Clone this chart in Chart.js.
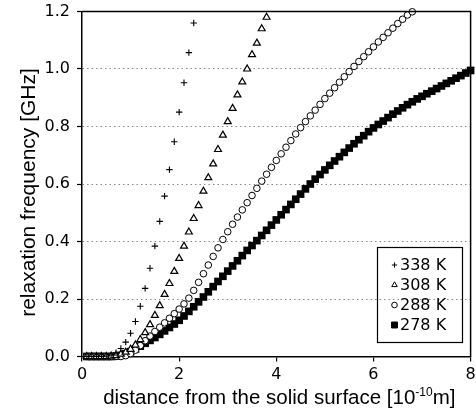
<!DOCTYPE html>
<html>
<head>
<meta charset="utf-8">
<script src="https://cdn.jsdelivr.net/npm/chart.js@4.4.1/dist/chart.umd.min.js"></script>
<style>
  html, body { margin: 0; padding: 0; background: #fff; }
  #wrap { width: 476px; height: 416px; }
</style>
</head>
<body>
<div id="wrap"><canvas id="relaxChart" width="476" height="416"></canvas></div>
<script>
  // distance from the solid surface, units of 1e-10 m
  const distance = [
    0.1, 0.2, 0.3, 0.4, 0.5, 0.6, 0.7, 0.8, 0.9, 1.0,
    1.1, 1.2, 1.3, 1.4, 1.5, 1.6, 1.7, 1.8, 1.9, 2.0,
    2.1, 2.2, 2.3, 2.4, 2.5, 2.6, 2.7, 2.8, 2.9, 3.0,
    3.1, 3.2, 3.3, 3.4, 3.5, 3.6, 3.7, 3.8, 3.9, 4.0,
    4.1, 4.2, 4.3, 4.4, 4.5, 4.6, 4.7, 4.8, 4.9, 5.0,
    5.1, 5.2, 5.3, 5.4, 5.5, 5.6, 5.7, 5.8, 5.9, 6.0,
    6.1, 6.2, 6.3, 6.4, 6.5, 6.6, 6.7, 6.8, 6.9, 7.0,
    7.1, 7.2, 7.3, 7.4, 7.5, 7.6, 7.7, 7.8, 7.9, 8.0
  ];

  // relaxation frequency [GHz] per temperature
  const f338 = [0, 0, 0, 0, 0.001, 0.005, 0.013, 0.028, 0.05, 0.081,
    0.122, 0.175, 0.237, 0.307, 0.384, 0.47, 0.558, 0.65, 0.747, 0.85,
    0.952, 1.057, 1.16];
  const f308 = [0, 0, 0, 0, 0, 0.001, 0.003, 0.008, 0.015, 0.025,
    0.04, 0.059, 0.083, 0.111, 0.143, 0.177, 0.216, 0.254, 0.296, 0.341,
    0.384, 0.433, 0.48, 0.525, 0.575, 0.622, 0.67, 0.72, 0.77, 0.817,
    0.863, 0.91, 0.955, 1.0, 1.05, 1.09, 1.14, 1.18];
  const f288 = [0, 0, 0, 0, 0, 0, 0, 0, 0.003, 0.01,
    0.022, 0.038, 0.055, 0.071, 0.087, 0.102, 0.117, 0.133, 0.149, 0.165,
    0.183, 0.203, 0.23, 0.258, 0.288, 0.318, 0.348, 0.378, 0.407, 0.434,
    0.46, 0.485, 0.51, 0.535, 0.56, 0.585, 0.61, 0.634, 0.658, 0.682,
    0.705, 0.728, 0.751, 0.774, 0.796, 0.817, 0.837, 0.857, 0.877, 0.897,
    0.916, 0.935, 0.954, 0.973, 0.991, 1.009, 1.026, 1.043, 1.06, 1.077,
    1.094, 1.11, 1.126, 1.142, 1.158, 1.173, 1.188, 1.199];
  const f278 = [0, 0, 0, 0, 0, 0, 0.001, 0.004, 0.01, 0.017,
    0.026, 0.036, 0.046, 0.056, 0.066, 0.077, 0.089, 0.101, 0.113, 0.126,
    0.141, 0.157, 0.173, 0.19, 0.207, 0.225, 0.243, 0.261, 0.279, 0.297,
    0.315, 0.333, 0.351, 0.369, 0.386, 0.403, 0.421, 0.439, 0.457, 0.475,
    0.493, 0.511, 0.529, 0.547, 0.565, 0.583, 0.6, 0.617, 0.633, 0.649,
    0.665, 0.68, 0.695, 0.71, 0.725, 0.74, 0.754, 0.768, 0.782, 0.795,
    0.807, 0.819, 0.831, 0.843, 0.854, 0.865, 0.876, 0.886, 0.896, 0.905,
    0.914, 0.923, 0.932, 0.941, 0.95, 0.959, 0.968, 0.977, 0.986, 0.995];

  const seriesNames = ['338 K', '308 K', '288 K', '278 K'];
  const xTicks = [0, 2, 4, 6, 8];
  const yTicks = [0, 0.2, 0.4, 0.6, 0.8, 1.0, 1.2];
  const yTitle = 'relaxation frequency [GHz]';
  // x title in three runs: text, superscript exponent, text
  const xTitleParts = ['distance from the solid surface [10', '-10', 'm]'];

  const toPoints = vals => vals.map((v, i) => ({ x: distance[i], y: v }));

  // small boxed legend inside the plot, bottom right
  const legendSizes = [2.6, 3.2, 2.8, 4.2];
  const boxLegend = {
    id: 'boxLegend',
    afterDraw(chart) {
      const ctx = chart.ctx;
      ctx.save();
      ctx.strokeStyle = '#000';
      ctx.lineWidth = 1.2;
      ctx.strokeRect(377.5, 247.5, 85, 95);
      chart.data.datasets.forEach((ds, i) => {
        const y = 265 + i * 20;
        ctx.fillStyle = ds.pointBackgroundColor;
        ctx.strokeStyle = '#000';
        ctx.lineWidth = 1;
        Chart.helpers.drawPoint(ctx, {
          pointStyle: ds.pointStyle, radius: legendSizes[i], borderWidth: 1, rotation: 0
        }, 394.5, y);
        ctx.fillStyle = '#000';
        ctx.font = '16px "DejaVu Sans"';
        ctx.textBaseline = 'middle';
        ctx.textAlign = 'left';
        ctx.fillText(ds.label, 400, y + 1);
      });
      ctx.restore();
    }
  };

  // frame top/right edges + both axis titles (x one needs a real superscript)
  const frame = {
    id: 'frame',
    afterDraw(chart) {
      const { ctx, chartArea: a } = chart;
      ctx.save();
      ctx.strokeStyle = '#000';
      ctx.lineWidth = 1.5;
      ctx.beginPath();
      ctx.moveTo(a.left, a.top);
      ctx.lineTo(a.right, a.top);
      ctx.lineTo(a.right, a.bottom);
      ctx.stroke();

      ctx.fillStyle = '#000';
      ctx.textBaseline = 'alphabetic';
      ctx.textAlign = 'left';
      const big = '20.5px "Liberation Sans"', small = '12px "Liberation Sans"';
      ctx.font = big;
      const w0 = ctx.measureText(xTitleParts[0]).width;
      const w2 = ctx.measureText(xTitleParts[2]).width;
      ctx.font = small;
      const w1 = ctx.measureText(xTitleParts[1]).width;
      let x = (a.left + a.right) / 2 + 3 - (w0 + w1 + w2) / 2;
      const base = 404;
      ctx.font = big;
      ctx.fillText(xTitleParts[0], x, base);
      x += w0;
      ctx.font = small;
      ctx.fillText(xTitleParts[1], x, base - 8);
      x += w1;
      ctx.font = big;
      ctx.fillText(xTitleParts[2], x, base);

      ctx.translate(29, 192.5);
      ctx.rotate(-Math.PI / 2);
      ctx.font = '21px "Liberation Sans"';
      ctx.textAlign = 'center';
      ctx.textBaseline = 'middle';
      ctx.fillText(yTitle, 0, 0);
      ctx.restore();
    }
  };

  const tickFont = { family: 'DejaVu Sans', size: 16 };

  new Chart(document.getElementById('relaxChart'), {
    type: 'scatter',
    data: {
      datasets: [
        { label: seriesNames[0], data: toPoints(f338), pointStyle: 'cross', pointRadius: 3.2,
          borderColor: '#000', pointBackgroundColor: '#000', pointBorderWidth: 1.1, clip: false },
        { label: seriesNames[1], data: toPoints(f308), pointStyle: 'triangle', pointRadius: 4,
          borderColor: '#000', pointBackgroundColor: '#fff', pointBorderWidth: 1.2, clip: false },
        { label: seriesNames[2], data: toPoints(f288), pointStyle: 'circle', pointRadius: 3.3,
          borderColor: '#000', pointBackgroundColor: '#fff', pointBorderWidth: 1, clip: false },
        { label: seriesNames[3], data: toPoints(f278), pointStyle: 'rect', pointRadius: 5.4,
          borderColor: '#000', pointBackgroundColor: '#000', pointBorderWidth: 0, clip: false }
      ]
    },
    options: {
      responsive: false,
      animation: false,
      layout: { padding: { left: 0, right: 2, top: 11.5, bottom: 0 } },
      plugins: {
        legend: { display: false },
        tooltip: { enabled: false }
      },
      scales: {
        x: {
          type: 'linear', min: 0, max: 8,
          afterBuildTicks: s => { s.ticks = xTicks.map(v => ({ value: v })); },
          afterFit: s => { s.height = 59.5; s.paddingLeft = 0; s.paddingRight = 0; },
          border: { color: '#000', width: 1.5 },
          grid: { drawOnChartArea: false, color: '#000', tickLength: 5, lineWidth: 1.2 },
          ticks: { color: '#000', font: tickFont, padding: 4, maxRotation: 0, autoSkip: false },
          title: { display: false }
        },
        y: {
          type: 'linear', min: 0, max: 1.2,
          afterBuildTicks: s => { s.ticks = yTicks.map(v => ({ value: v })); },
          afterFit: s => { s.width = 82; s.paddingTop = 0; s.paddingBottom = 0; },
          border: { color: '#000', width: 1.5, dash: [1.5, 3] },
          grid: {
            color: c => (c.tick && (c.tick.value === 0 || c.tick.value >= 1.19)) ? 'rgba(0,0,0,0)' : '#8a8a8a',
            lineWidth: 1,
            tickColor: '#000', tickLength: 5, tickWidth: 1.2, tickBorderDash: []
          },
          ticks: { color: '#000', font: tickFont, padding: 7, callback: v => v.toFixed(1) },
          title: { display: false }
        }
      }
    },
    plugins: [boxLegend, frame]
  });
</script>
</body>
</html>
